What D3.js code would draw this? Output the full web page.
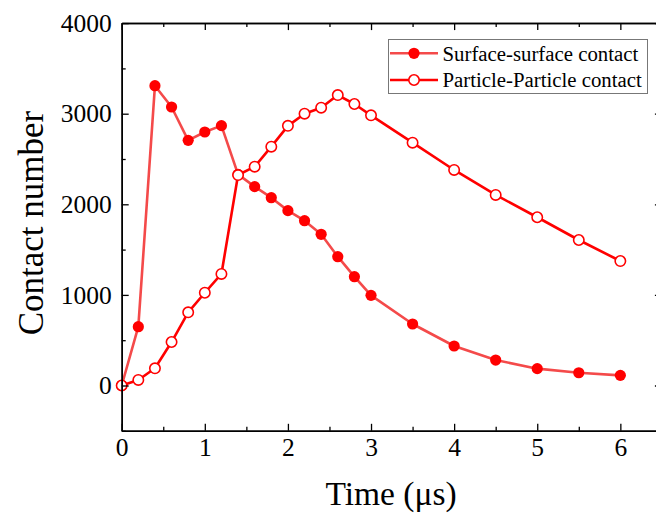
<!DOCTYPE html>
<html>
<head>
<meta charset="utf-8">
<script src="https://cdn.jsdelivr.net/npm/d3@7"></script>
<style>
  html, body { margin: 0; padding: 0; background: #fff; }
  svg { display: block; font-family: "Liberation Serif", "Times New Roman", serif; }
</style>
</head>
<body>
<svg id="chart" width="656" height="515"></svg>
<script>
// ---- data ----
const timeSurface = [0, 0.2, 0.4, 0.6, 0.8, 1.0, 1.2, 1.4, 1.6, 1.8, 2.0, 2.2, 2.4, 2.6, 2.8, 3.0, 3.5, 4.0, 4.5, 5.0, 5.5, 6.0];
const surfaceContact = [0, 649, 3309, 3074, 2706, 2798, 2868, 2330, 2195, 2073, 1930, 1819, 1669, 1422, 1201, 995, 679, 436, 281, 186, 141, 112];
const timeParticle = [0, 0.2, 0.4, 0.6, 0.8, 1.0, 1.2, 1.4, 1.6, 1.8, 2.0, 2.2, 2.4, 2.6, 2.8, 3.0, 3.5, 4.0, 4.5, 5.0, 5.5, 6.0];
const particleContact = [0, 61, 190, 480, 808, 1024, 1231, 2323, 2415, 2636, 2866, 3000, 3066, 3206, 3107, 2982, 2680, 2379, 2103, 1857, 1606, 1374];
const xTicks = [0, 1, 2, 3, 4, 5, 6];
const xMinorTicks = [0.5, 1.5, 2.5, 3.5, 4.5, 5.5, 6.5];
const yTicks = [0, 1000, 2000, 3000, 4000];
const yMinorTicks = [-500, 500, 1500, 2500, 3500];
const seriesNames = ["Surface-surface contact", "Particle-Particle contact"];
const xTitle = "Time (\u03bcs)";
const yTitle = "Contact number";

// ---- layout ----
const svg = d3.select("#chart");
const pLeft = 121.7, pRight = 661.9, pTop = 23.1, pBottom = 430.8;
const x = d3.scaleLinear().domain([0, 6.5]).range([pLeft, pRight]);
const y = d3.scaleLinear().domain([-500, 4000]).range([pBottom, pTop]);
const serif = "Liberation Serif, Times New Roman, serif";

const lineSurfaceColor = "#f44a4a";
const red = "#ff0000";

const surfData = timeSurface.map((t, i) => ({ t, v: surfaceContact[i] }));
const partData = timeParticle.map((t, i) => ({ t, v: particleContact[i] }));
const line = d3.line().x(d => x(d.t)).y(d => y(d.v));

// series 1 (filled)
svg.append("path").datum(surfData)
  .attr("d", line).attr("fill", "none")
  .attr("stroke", lineSurfaceColor).attr("stroke-width", 2.6).attr("stroke-linejoin", "round");
svg.append("g").selectAll("circle").data(surfData).join("circle")
  .attr("cx", d => x(d.t)).attr("cy", d => y(d.v)).attr("r", 5.6)
  .attr("fill", red);

// series 2 (open)
svg.append("path").datum(partData)
  .attr("d", line).attr("fill", "none")
  .attr("stroke", red).attr("stroke-width", 2.6).attr("stroke-linejoin", "round");
svg.append("g").selectAll("circle").data(partData).join("circle")
  .attr("cx", d => x(d.t)).attr("cy", d => y(d.v)).attr("r", 5.2)
  .attr("fill", "#fff").attr("stroke", red).attr("stroke-width", 1.6);

// ---- axes ----
const tickFont = 25.5;
function styleAxis(g) {
  g.attr("font-family", serif);
  g.selectAll(".domain").attr("stroke", "#000").attr("stroke-width", 1.5);
  g.selectAll(".tick line").attr("stroke", "#000").attr("stroke-width", 1.3);
  g.selectAll("text").attr("font-family", serif)
    .attr("font-size", tickFont).attr("fill", "#000");
}
// bottom
svg.append("g").attr("transform", `translate(0,${pBottom})`)
  .call(d3.axisBottom(x).tickValues(xTicks).tickFormat(d3.format("d")).tickSizeInner(-7).tickSizeOuter(0).tickPadding(7))
  .call(styleAxis);
svg.append("g").attr("transform", `translate(0,${pBottom})`)
  .call(d3.axisBottom(x).tickValues(xMinorTicks).tickFormat("").tickSizeInner(-4).tickSizeOuter(0))
  .call(styleAxis);
// top
svg.append("g").attr("transform", `translate(0,${pTop})`)
  .call(d3.axisTop(x).tickValues(xTicks).tickFormat("").tickSizeInner(-7).tickSizeOuter(0))
  .call(styleAxis);
svg.append("g").attr("transform", `translate(0,${pTop})`)
  .call(d3.axisTop(x).tickValues(xMinorTicks).tickFormat("").tickSizeInner(-4).tickSizeOuter(0))
  .call(styleAxis);
// left
svg.append("g").attr("transform", `translate(${pLeft},0)`)
  .call(d3.axisLeft(y).tickValues(yTicks).tickFormat(d3.format("d")).tickSizeInner(-7).tickSizeOuter(0).tickPadding(10))
  .call(styleAxis);
svg.append("g").attr("transform", `translate(${pLeft},0)`)
  .call(d3.axisLeft(y).tickValues(yMinorTicks).tickFormat("").tickSizeInner(-4).tickSizeOuter(0))
  .call(styleAxis);
// right
svg.append("g").attr("transform", `translate(${pRight},0)`)
  .call(d3.axisRight(y).tickValues(yTicks).tickFormat("").tickSizeInner(-7).tickSizeOuter(0))
  .call(styleAxis);
svg.append("g").attr("transform", `translate(${pRight},0)`)
  .call(d3.axisRight(y).tickValues(yMinorTicks).tickFormat("").tickSizeInner(-4).tickSizeOuter(0))
  .call(styleAxis);

// titles
svg.append("text").attr("x", 391).attr("y", 505)
  .attr("text-anchor", "middle").attr("font-family", serif).attr("font-size", 33.5).attr("fill", "#000").text(xTitle);
svg.append("text").attr("transform", `translate(43,223) rotate(-90)`)
  .attr("text-anchor", "middle").attr("font-family", serif).attr("font-size", 35).attr("fill", "#000").text(yTitle);

// ---- legend ----
const lg = svg.append("g");
lg.append("rect").attr("x", 388.5).attr("y", 39.5).attr("width", 259).attr("height", 54)
  .attr("fill", "#fff").attr("stroke", "#777").attr("stroke-width", 1);
const rows = [
  { name: seriesNames[0], lineColor: lineSurfaceColor, fill: red, stroke: "none", r: 5.6, yy: 53.3 },
  { name: seriesNames[1], lineColor: red, fill: "#fff", stroke: red, r: 5.2, yy: 80 }
];
rows.forEach(rw => {
  lg.append("line").attr("x1", 390).attr("x2", 438).attr("y1", rw.yy).attr("y2", rw.yy)
    .attr("stroke", rw.lineColor).attr("stroke-width", 2.6);
  lg.append("circle").attr("cx", 414).attr("cy", rw.yy).attr("r", rw.r)
    .attr("fill", rw.fill).attr("stroke", rw.stroke).attr("stroke-width", 1.6);
  lg.append("text").attr("x", 442.5).attr("y", rw.yy).attr("dy", "0.35em")
    .attr("font-family", serif).attr("font-size", 20.8).attr("fill", "#000").text(rw.name);
});
</script>
</body>
</html>
